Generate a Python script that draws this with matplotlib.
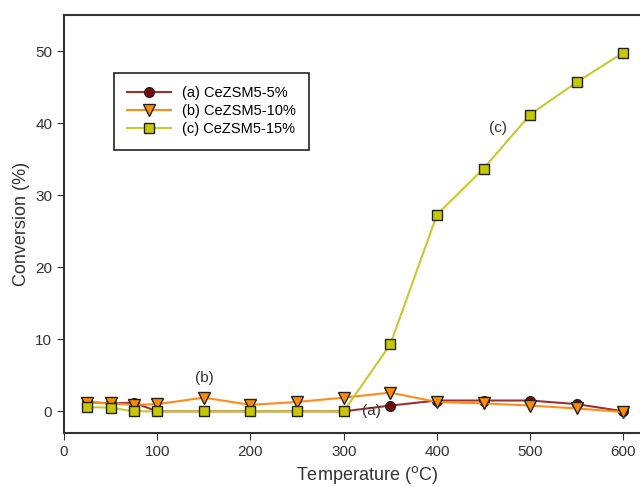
import matplotlib.pyplot as plt

plt.rcParams['font.family'] = ['Liberation Sans', 'DejaVu Sans']

temp = [25, 50, 75, 100, 150, 200, 250, 300, 350, 400, 450, 500, 550, 600]
conv_a = [1.3, 1.1, 1.2, 0.0, 0.0, 0.0, 0.0, 0.0, 0.8, 1.5, 1.5, 1.5, 1.0, 0.0]
conv_b = [1.2, 1.1, 0.9, 1.0, 1.9, 0.9, 1.3, 1.9, 2.6, 1.3, 1.1, 0.8, 0.4, -0.1]
conv_c = [0.6, 0.5, 0.0, 0.0, 0.0, 0.0, 0.0, 0.0, 9.3, 27.3, 33.7, 41.2, 45.7, 49.8]
labels = ['(a) CeZSM5-5%', '(b) CeZSM5-10%', '(c) CeZSM5-15%']

fig = plt.figure(figsize=(6.4, 4.87), dpi=100)
ax = fig.add_axes([0.1, 0.111, 0.947, 0.858])

ax.plot(temp, conv_a, color='#993333', lw=1.5, marker='o', ms=7,
        mfc='#7a0a0a', mec='#222222', mew=1, label=labels[0], zorder=2)
ax.plot(temp, conv_b, color='#ff8c1a', lw=1.5, marker='v', ms=8,
        mfc='#ff8c00', mec='#222222', mew=1, label=labels[1], zorder=3)
ax.plot(temp, conv_c, color='#c8c832', lw=1.5, marker='s', ms=7,
        mfc='#c8c800', mec='#222222', mew=1, label=labels[2], zorder=4)

ax.text(330, 0, '(a)', fontsize=11, color='#333333', ha='center', va='center')
ax.text(151, 4.6, '(b)', fontsize=11, color='#333333', ha='center', va='center')
ax.text(465, 39.3, '(c)', fontsize=11, color='#333333', ha='center', va='center')

ax.set_xlim(0, 650)
ax.set_ylim(-3, 55)
ax.set_xticks([0, 100, 200, 300, 400, 500, 600])
ax.set_yticks([0, 10, 20, 30, 40, 50])
ax.tick_params(direction='out', labelsize=11, length=5, colors='#333333')
ax.set_xlabel('Temperature ($^{\\mathrm{o}}$C)', fontsize=13, color='#333333')
ax.set_ylabel('Conversion (%)', fontsize=13, color='#333333')
for s in ax.spines.values():
    s.set_color('#333333')
    s.set_linewidth(1.5)

leg = ax.legend(loc='upper left', bbox_to_anchor=(0.07, 0.88), fontsize=10.5,
                fancybox=False, edgecolor='#222222', framealpha=1,
                borderpad=0.9, handlelength=3, labelspacing=0.3)
leg.get_frame().set_linewidth(1.2)

fig.savefig('out.png', dpi=100)
